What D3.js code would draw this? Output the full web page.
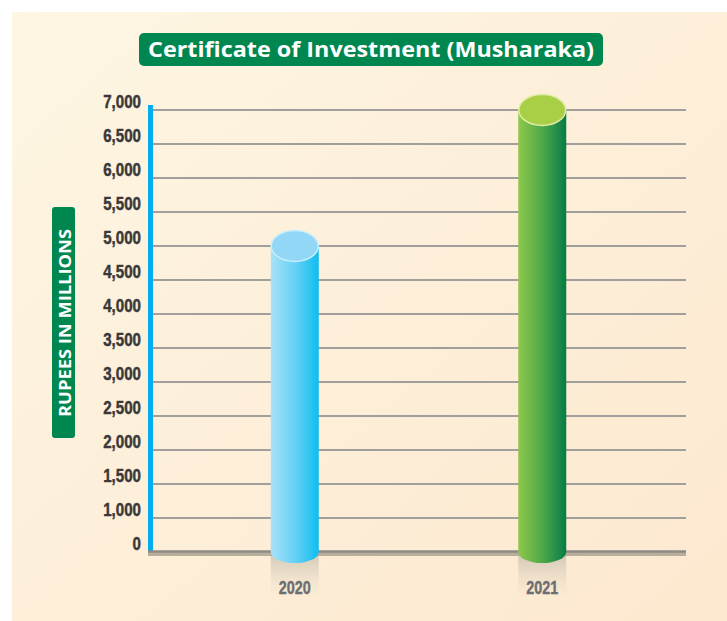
<!DOCTYPE html>
<html><head><meta charset="utf-8">
<script src="https://cdn.jsdelivr.net/npm/d3@7"></script>
<style>html,body{margin:0;padding:0;background:#fff;}svg{display:block;}</style>
</head><body>
<svg id="chart" width="727" height="621"></svg>
<script>
const title = "Certificate of Investment (Musharaka)";
const yTitle = "RUPEES IN MILLIONS";
const years = ["2020", "2021"];
const values = [5000, 7000];
const tickValues = [0, 1000, 1500, 2000, 2500, 3000, 3500, 4000, 4500, 5000, 5500, 6000, 6500, 7000];

const svg = d3.select("#chart");
const defs = svg.append("defs");

function lin(id, x2, y2, stops) {
  const g = defs.append("linearGradient").attr("id", id)
    .attr("x1", 0).attr("y1", 0).attr("x2", x2).attr("y2", y2);
  stops.forEach(s => g.append("stop").attr("offset", s[0]).attr("stop-color", s[1]).attr("stop-opacity", s[2] == null ? 1 : s[2]));
}
lin("bg", 1, 1, [[0, "#fdf6e3"], [1, "#fde8cf"]]);
lin("bodyBlue", 1, 0, [[0, "#a9e2f9"], [0.55, "#5fcff5"], [1, "#0dbdf0"]]);
lin("bodyGreen", 1, 0, [[0, "#8ec84b"], [0.5, "#4fa94a"], [1, "#077c46"]]);
lin("shadow", 0, 1, [[0, "#a9a69a", 0.55], [1, "#d8d2c0", 0]]);

const topFill = ["#92d8f6", "#a8cf45"];
const topStroke = ["#c9eefb", "#e0eda6"];
const bodyFill = ["url(#bodyBlue)", "url(#bodyGreen)"];
const narrowFont = "'Liberation Sans','Arimo',Arial,sans-serif";
const fmt = d3.format(",");
// squeezed width for condensed-looking numerals
const labelWidth = s => s.replace(/,/g, "").length * 8.4 + (s.split(",").length - 1) * 4.2;

// background panel
svg.append("rect").attr("x", 12).attr("y", 12).attr("width", 715).attr("height", 609).attr("fill", "url(#bg)");

// scales
const y = d3.scaleLinear().domain([0, 1000, 7000]).range([552, 518, 110]);
const x = d3.scaleBand().domain(years).range([171, 666]);
const gridX0 = 153, gridX1 = 686;

// gridlines
svg.append("g").selectAll("line").data(tickValues.filter(d => d !== 0)).join("line")
  .attr("x1", gridX0).attr("x2", gridX1)
  .attr("y1", d => y(d)).attr("y2", d => y(d))
  .attr("stroke", "#a19f9c").attr("stroke-width", 2);

// tick labels
svg.append("g").selectAll("text").data(tickValues).join("text")
  .attr("x", 141).attr("y", d => y(d) - 2)
  .attr("text-anchor", "end")
  .attr("font-family", narrowFont)
  .attr("font-weight", "bold").attr("font-size", 18).attr("fill", "#3a3838")
  .attr("stroke", "#3a3838").attr("stroke-width", 0.45)
  .attr("textLength", d => labelWidth(fmt(d))).attr("lengthAdjust", "spacingAndGlyphs")
  .text(d => fmt(d));

// blue y-axis bar
svg.append("rect").attr("x", 148).attr("y", y(7000) - 5).attr("width", 5).attr("height", y(0) - y(7000) + 5).attr("fill", "#00adef");

const rx = 24, ryTop = 15.5, ryBot = 11;

// shadows under bars
svg.append("g").selectAll("rect").data(years).join("rect")
  .attr("x", d => x(d) + x.bandwidth() / 2 - rx).attr("y", y(0))
  .attr("width", rx * 2).attr("height", 46).attr("fill", "url(#shadow)");

// baseline
svg.append("rect").attr("x", 148).attr("y", y(0)).attr("width", gridX1 - 148).attr("height", 4).attr("fill", "#b8ae9c");
svg.append("line").attr("x1", 148).attr("x2", gridX1).attr("y1", y(0) - 0.5).attr("y2", y(0) - 0.5)
  .attr("stroke", "#8e8b87").attr("stroke-width", 2.5);

// cylinders
const bars = svg.append("g").selectAll("g").data(years).join("g");
bars.append("path")
  .attr("d", (d, i) => {
    const cx = x(d) + x.bandwidth() / 2, yt = y(values[i]), yb = y(0);
    return `M${cx - rx},${yt} L${cx - rx},${yb} A${rx},${ryBot} 0 0 0 ${cx + rx},${yb} L${cx + rx},${yt} Z`;
  })
  .attr("fill", (d, i) => bodyFill[i]);
bars.append("ellipse")
  .attr("cx", d => x(d) + x.bandwidth() / 2).attr("cy", (d, i) => y(values[i]))
  .attr("rx", rx - 0.5).attr("ry", ryTop)
  .attr("fill", (d, i) => topFill[i]).attr("stroke", (d, i) => topStroke[i]).attr("stroke-width", 1.5);

// x labels
svg.append("g").selectAll("text").data(years).join("text")
  .attr("x", d => x(d) + x.bandwidth() / 2).attr("y", y(0) + 41.5)
  .attr("text-anchor", "middle")
  .attr("font-family", narrowFont)
  .attr("font-weight", "bold").attr("font-size", 17.5).attr("fill", "#6d6e71")
  .attr("stroke", "#6d6e71").attr("stroke-width", 0.4)
  .attr("textLength", 32).attr("lengthAdjust", "spacingAndGlyphs")
  .text(d => d);

// title
svg.append("rect").attr("x", 139).attr("y", 33).attr("width", 464).attr("height", 33).attr("rx", 5).attr("fill", "#00874f");
svg.append("text").attr("x", 371).attr("y", 57).attr("text-anchor", "middle")
  .attr("font-family", "'Open Sans','Noto Sans',sans-serif").attr("font-weight", "bold").attr("font-size", 21)
  .attr("fill", "#ffffff").attr("textLength", 446).attr("lengthAdjust", "spacingAndGlyphs")
  .text(title);

// y-axis title
svg.append("rect").attr("x", 52).attr("y", 207).attr("width", 23).attr("height", 231).attr("rx", 3).attr("fill", "#00874f");
svg.append("text").attr("transform", "translate(64.5,323) rotate(-90)")
  .attr("text-anchor", "middle").attr("dominant-baseline", "central")
  .attr("font-family", "'Open Sans','Noto Sans',sans-serif").attr("font-weight", "bold").attr("font-size", 16)
  .attr("fill", "#ffffff").attr("textLength", 188).attr("lengthAdjust", "spacingAndGlyphs")
  .text(yTitle);
</script>
</body></html>
